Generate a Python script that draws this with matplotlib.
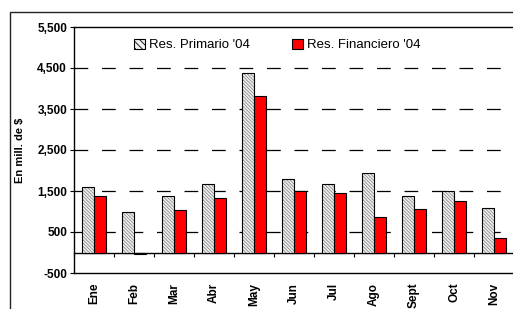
import numpy as np
import matplotlib
matplotlib.use('Agg')
import matplotlib.pyplot as plt
from matplotlib.patches import Rectangle, Patch

plt.rcParams['font.family'] = ['Liberation Sans', 'DejaVu Sans']
plt.rcParams['hatch.linewidth'] = 0.6

meses = ['Ene', 'Feb', 'Mar', 'Abr', 'May', 'Jun', 'Jul', 'Ago', 'Sept', 'Oct', 'Nov']
res_primario = [1590, 1000, 1390, 1675, 4375, 1790, 1660, 1935, 1390, 1505, 1085]
res_financiero = [1370, -25, 1035, 1325, 3820, 1510, 1450, 870, 1050, 1260, 350]
yticks = [-500, 500, 1500, 2500, 3500, 4500, 5500]

W, H = 513, 309
fig = plt.figure(figsize=(W / 100, H / 100), dpi=100)

# cadre exterieur
fig.patches.append(Rectangle((10 / W, -0.1), 1.2, 1 - 12 / H + 0.1, transform=fig.transFigure,
                             fill=False, edgecolor='#222222', linewidth=1.0))

ax = fig.add_axes([74 / W, 1 - 273 / H, 440 / W, 246 / H])

x = np.arange(len(meses))
bw = 0.3
hachure = '\\' * 10

# barres hachurees (hachures grises, contour noir)
ax.bar(x - bw / 2, res_primario, bw, facecolor='#f2f2f2', edgecolor='#8c8c8c', hatch=hachure,
       linewidth=0, zorder=2)
ax.bar(x - bw / 2, res_primario, bw, fill=False, edgecolor='black', linewidth=0.8, zorder=3)
ax.bar(x + bw / 2, res_financiero, bw, facecolor='#ff0000', edgecolor='black', linewidth=0.8, zorder=3)

ax.set_xlim(-0.5, len(meses) - 0.5)
ax.set_ylim(-500, 5500)
ax.set_yticks(yticks)
ax.set_yticklabels([f'{v:,}' for v in yticks], fontsize=8.5, fontweight='bold')
ax.tick_params(axis='y', length=3, width=0.8, pad=2)

ax.set_xticks(x)
ax.set_xticklabels(meses, rotation=90, fontsize=8.5, fontweight='bold')
ax.tick_params(axis='x', length=0, pad=7)

for v in yticks[1:-1]:
    ax.axhline(v, color='black', linewidth=0.9, linestyle=(0, (11, 11)), zorder=1)

ax.spines['right'].set_visible(False)
for s in ['top', 'bottom', 'left']:
    ax.spines[s].set_linewidth(1.0)

# axe des categories a zero
sec = ax.secondary_xaxis(500 / 6000)
sec.set_xticks(np.arange(len(meses) + 1) - 0.5)
sec.set_xticklabels([])
sec.tick_params(axis='x', length=3, width=0.8, direction='out')
sec.spines['bottom'].set_linewidth(1.0)

ax.set_ylabel('En mill. de $', fontsize=8, fontweight='bold')
ax.yaxis.set_label_coords(-0.112, 0.5)

handles = [Patch(facecolor='#f2f2f2', edgecolor='black', hatch='\\' * 5, linewidth=0.8),
           Patch(facecolor='#ff0000', edgecolor='black', linewidth=0.8)]
fig.legend(handles, ["Res. Primario '04", "Res. Financiero '04"], loc='center left',
           bbox_to_anchor=(134 / W, 1 - 45 / H), ncol=2, frameon=False, fontsize=9.5,
           handlelength=0.8, handleheight=0.8, handletextpad=0.3, columnspacing=3.25,
           borderpad=0, borderaxespad=0)

fig.savefig('out.png', dpi=100)
